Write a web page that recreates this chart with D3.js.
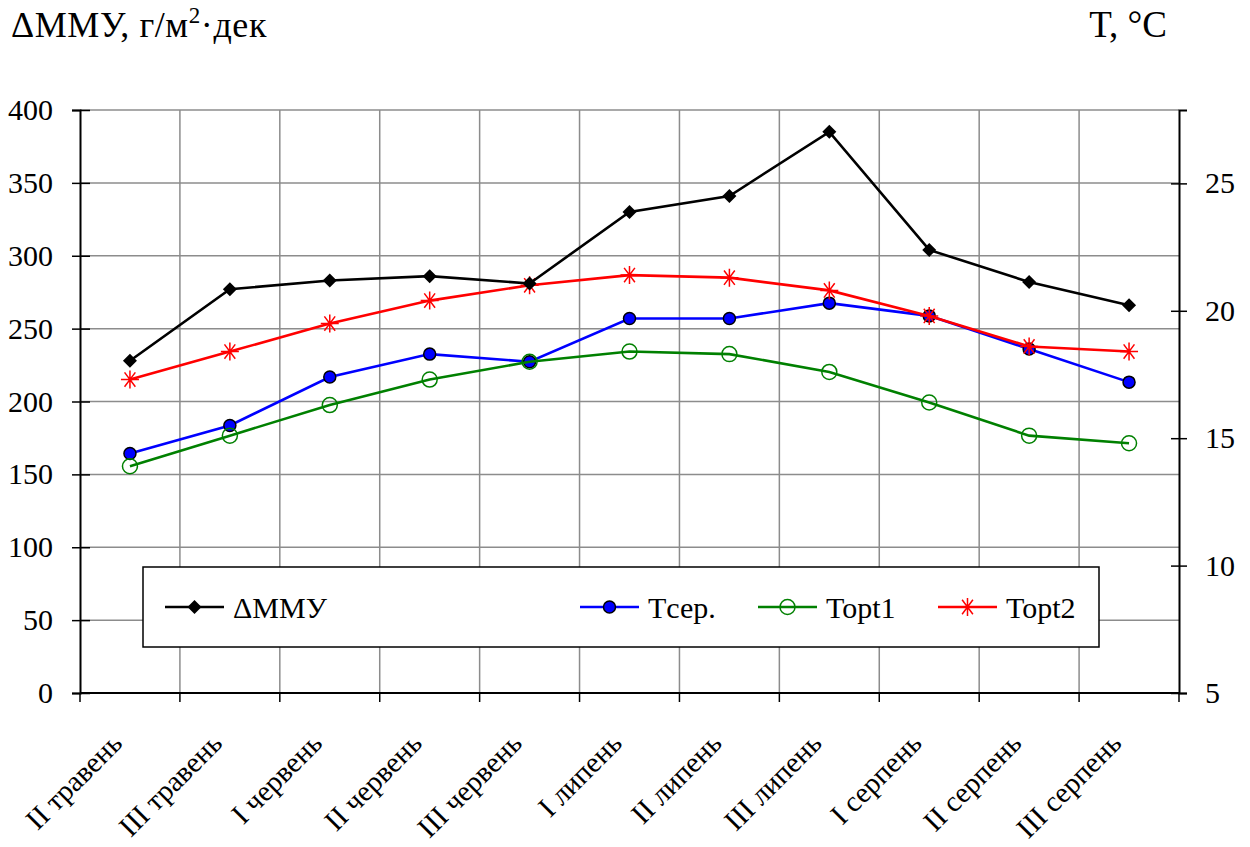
<html><head><meta charset="utf-8"><script src="https://cdn.jsdelivr.net/npm/d3@7"></script></head>
<body style="margin:0">
<svg id="chart" width="1250" height="847"></svg>
<script>
// Decades of the growing season
const categories = ["II травень", "III травень", "I червень", "II червень", "III червень",
  "I липень", "II липень", "III липень", "I серпень", "II серпень", "III серпень"];

// Dry matter gain, g/m²·decade (left axis)
const dMMU = [228, 277, 283, 286, 281, 330, 341, 385, 304, 282, 266];
// Temperatures, °C (right axis)
const tSer = [14.4, 15.5, 17.4, 18.3, 18.0, 19.7, 19.7, 20.3, 19.8, 18.5, 17.2];
const tOpt1 = [13.9, 15.1, 16.3, 17.3, 18.0, 18.4, 18.3, 17.6, 16.4, 15.1, 14.8];
const tOpt2 = [17.3, 18.4, 19.5, 20.4, 21.0, 21.4, 21.3, 20.8, 19.8, 18.6, 18.4];

const leftTicks = [0, 50, 100, 150, 200, 250, 300, 350, 400];
const rightTicks = [5, 10, 15, 20, 25];

const FONT = "Liberation Serif";
const FS = "30px";

const svg = d3.select("#chart");
const plot = { left: 80, right: 1179, top: 110, bottom: 693 };

const x = d3.scaleBand().domain(categories).range([plot.left, plot.right]).padding(0);
const yL = d3.scaleLinear().domain([0, 400]).range([plot.bottom, plot.top]);
const yR = d3.scaleLinear().domain([5, 27.88]).range([plot.bottom, plot.top]);
const cx = d => x(d) + x.bandwidth() / 2;

const grid = "#8c8c8c";

// every label is written through this helper so the serif face is applied inline
function label(parent, str, size) {
  return parent.append("text").style("font-family", FONT).style("font-size", size || FS)
    .attr("fill", "#000").text(str);
}

// horizontal grid
svg.append("g").selectAll("line").data(leftTicks.filter(v => v > 0)).join("line")
  .attr("x1", plot.left).attr("x2", plot.right)
  .attr("y1", d => yL(d)).attr("y2", d => yL(d))
  .attr("stroke", grid).attr("stroke-width", 1.5);

// vertical grid at category boundaries
const bounds = categories.map(c => x(c)).concat([plot.right]);
svg.append("g").selectAll("line").data(bounds.slice(1, -1)).join("line")
  .attr("x1", d => d).attr("x2", d => d)
  .attr("y1", plot.top).attr("y2", plot.bottom)
  .attr("stroke", grid).attr("stroke-width", 1.5);

// left axis, ticks crossing the line; labels drawn separately
const axL = svg.append("g").attr("transform", `translate(${plot.left},0)`)
  .call(d3.axisLeft(yL).tickValues(leftTicks).tickSize(8).tickFormat(""));
axL.selectAll(".tick line").attr("x2", 10).attr("x1", -8);
leftTicks.forEach(v => {
  label(svg, String(v)).attr("x", plot.left - 27).attr("y", yL(v) + 10).attr("text-anchor", "end");
});
// right axis, ticks crossing the line
const axR = svg.append("g").attr("transform", `translate(${plot.right},0)`)
  .call(d3.axisRight(yR).tickValues(rightTicks).tickSize(8).tickFormat(""));
axR.selectAll(".tick line").attr("x1", -8);
rightTicks.forEach(v => {
  label(svg, String(v)).attr("x", plot.right + 26).attr("y", yR(v) + 10).attr("text-anchor", "start");
});
// bottom axis with ticks at category boundaries
const axB = svg.append("g").attr("transform", `translate(0,${plot.bottom})`);
axB.append("line").attr("x1", plot.left).attr("x2", plot.right).attr("stroke", "#000").attr("stroke-width", 2);
axB.selectAll("line.tk").data(bounds).join("line").attr("class", "tk")
  .attr("x1", d => d).attr("x2", d => d).attr("y1", 0).attr("y2", 9)
  .attr("stroke", "#000").attr("stroke-width", 1.5);

[axL, axR].forEach(a => {
  a.select(".domain").attr("stroke", "#000").attr("stroke-width", 2);
  a.selectAll(".tick line").attr("stroke", "#000").attr("stroke-width", 1.5);
});

// category labels, rotated
categories.forEach(c => {
  label(axB, c, "29px").attr("transform", `translate(${cx(c) - 6},52) rotate(-45)`)
    .attr("text-anchor", "end");
});

// axis titles
const tl = label(svg, "", "36px").attr("x", 11).attr("y", 37).style("letter-spacing", "0.6px");
tl.append("tspan").style("font-family", FONT).text("ΔMMУ, г/м");
tl.append("tspan").style("font-family", FONT).style("font-size", "23px").attr("dy", -14).text("2");
tl.append("tspan").style("font-family", FONT).attr("dy", 14).text("·дек");
label(svg, "T, °C", "37px").attr("x", 1167).attr("y", 37).attr("text-anchor", "end");

// marker drawers
function diamond(g, px, py) {
  g.append("path").attr("d", `M${px},${py - 7}L${px + 7},${py}L${px},${py + 7}L${px - 7},${py}Z`)
    .attr("fill", "#000");
}
function dot(g, px, py) {
  g.append("circle").attr("cx", px).attr("cy", py).attr("r", 6)
    .attr("fill", "#0000ff").attr("stroke", "#000").attr("stroke-width", 1.5);
}
function ring(g, px, py) {
  g.append("circle").attr("cx", px).attr("cy", py).attr("r", 7.5)
    .attr("fill", "none").attr("stroke", "#008000").attr("stroke-width", 1.5);
}
function star(g, px, py) {
  const r = 9;
  g.append("path").attr("d",
    `M${px - r},${py}L${px + r},${py}` +
    `M${px - r * 0.6},${py - r * 0.8}L${px + r * 0.6},${py + r * 0.8}` +
    `M${px - r * 0.6},${py + r * 0.8}L${px + r * 0.6},${py - r * 0.8}` +
    `M${px},${py - r}L${px},${py + r}`)
    .attr("stroke", "#ff0000").attr("stroke-width", 1.5).attr("fill", "none");
}

const series = [
  { name: "Tсер.", values: tSer, y: yR, color: "#0000ff", mark: dot },
  { name: "Topt1", values: tOpt1, y: yR, color: "#008000", mark: ring },
  { name: "Topt2", values: tOpt2, y: yR, color: "#ff0000", mark: star },
  { name: "ΔMMУ", values: dMMU, y: yL, color: "#000000", mark: diamond }
];

series.forEach(s => {
  const g = svg.append("g");
  const line = d3.line().x((d, i) => cx(categories[i])).y(d => s.y(d));
  g.append("path").datum(s.values).attr("d", line)
    .attr("fill", "none").attr("stroke", s.color).attr("stroke-width", 2.6);
  s.values.forEach((v, i) => s.mark(g, cx(categories[i]), s.y(v)));
});

// legend
const lg = svg.append("g");
lg.append("rect").attr("x", 143).attr("y", 567).attr("width", 956).attr("height", 80)
  .attr("fill", "#fff").attr("stroke", "#000").attr("stroke-width", 1.5);
const legendItems = [
  { s: series[3], x0: 165 },
  { s: series[0], x0: 580 },
  { s: series[1], x0: 758 },
  { s: series[2], x0: 938 }
];
legendItems.forEach(({ s, x0 }) => {
  const ly = 607;
  lg.append("line").attr("x1", x0).attr("x2", x0 + 59).attr("y1", ly).attr("y2", ly)
    .attr("stroke", s.color).attr("stroke-width", 2.6);
  s.mark(lg, x0 + 29.5, ly);
  label(lg, s.name).attr("x", x0 + 68).attr("y", ly + 11);
});
</script>
</body>
</html>
